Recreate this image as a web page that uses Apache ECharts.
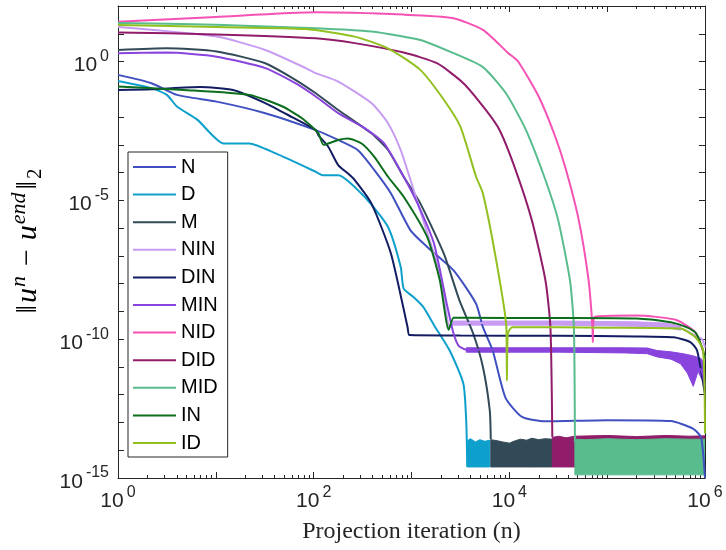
<!DOCTYPE html>
<html>
<head>
<meta charset="utf-8">
<script src="https://cdn.jsdelivr.net/npm/echarts@6/dist/echarts.min.js"></script>
<style>html,body{margin:0;padding:0;background:#fff}#c{width:726px;height:550px}</style>
</head>
<body>
<div id="c"></div>
<script>
// ---------- data (n = projection iteration, err = ||u^n - u^end||_2) ----------
const seriesNames = ['N','D','M','NIN','DIN','MIN','NID','DID','MID','IN','ID'];

const N_n   = [1, 2.2, 4.0, 10.2, 32, 105, 178, 282, 417, 617, 977, 1445, 2690, 4570, 5370, 6760, 9120, 13490, 23440, 1e5, 4.47e5, 7.59e5, 9.12e5, 1e6];
const N_err = [3.3e-1, 1.66e-1, 6.3e-2, 3.6e-2, 1.38e-2, 3.4e-3, 1.5e-3, 6.5e-4, 1.23e-4, 1.78e-5, 8.3e-7, 2.1e-7, 3.0e-8, 1.9e-9, 2.7e-10, 3.9e-11, 7.9e-13, 1.58e-13, 1.1e-13, 1.2e-13, 1.12e-13, 5.9e-14, 2.9e-14, 1e-15];

const D_n   = [1, 2.2, 3.16, 4.0, 6.5, 12, 22, 41, 105, 123, 178, 331, 575, 776, 832, 1047, 1318, 1698, 2455, 3390, 3630, 3715];
const D_err = [2.0e-1, 1.1e-1, 6.3e-2, 2.4e-2, 7.9e-3, 1.12e-3, 1.12e-3, 4.9e-4, 1.07e-4, 8.1e-5, 8.1e-5, 1.35e-5, 1.1e-6, 4.0e-8, 6.6e-9, 3.3e-9, 1.45e-9, 3.2e-10, 3.9e-11, 2.5e-12, 1e-13, 2.5e-15];
const D_band_n  = [3715, 4000, 4500, 5000, 5600, 6310];
const D_band_hi = [2.2e-14, 2.6e-14, 2.0e-14, 2.4e-14, 2.1e-14, 2.3e-14];
const D_band_lo = [2.5e-15, 2.5e-15, 2.5e-15, 2.5e-15, 2.5e-15, 2.5e-15];

const M_n   = [1, 3.16, 10.2, 32, 65, 105, 178, 389, 575, 832, 1230, 2140, 3090, 4270, 5370, 6310, 6460];
const M_err = [2.6, 3.0, 2.3, 8.7e-1, 2.2e-1, 7.2e-2, 1.8e-2, 2.6e-3, 6.5e-4, 7.1e-5, 7.8e-6, 1.2e-7, 2.5e-9, 1.6e-10, 1e-11, 2.7e-13, 2.5e-14];
const M_band_n  = [6460, 7500, 8500, 1e4, 1.15e4, 1.3e4, 1.5e4, 1.7e4, 2.0e4, 2.3e4, 2.75e4];
const M_band_hi = [2.4e-14, 2.2e-14, 2.0e-14, 1.8e-14, 2.2e-14, 2.5e-14, 2.3e-14, 2.7e-14, 2.4e-14, 2.6e-14, 2.5e-14];
const M_band_lo = [2.5e-15, 2.5e-15, 2.5e-15, 2.5e-15, 2.5e-15, 2.5e-15, 2.5e-15, 2.5e-15, 2.5e-15, 2.5e-15, 2.5e-15];

const NIN_n   = [1, 10.2, 32, 83, 105, 178, 389, 575, 776, 977, 1318, 1950, 2455, 2630, 3160, 3.16e4, 2e5, 3.98e5, 5.62e5, 7.94e5, 9.33e5, 1e6];
const NIN_err = [17.4, 7.9, 2.6, 5.8e-1, 3.8e-1, 1.9e-1, 3.2e-2, 6.0e-3, 6.5e-4, 5.4e-5, 1.9e-6, 2.3e-8, 2.7e-10, 3.8e-10, 3.8e-10, 3.8e-10, 3.5e-10, 3.2e-10, 2.5e-10, 1.35e-10, 1e-10, 5e-11];
const NIN_band_n  = [2630, 3.16e4, 2e5, 3.98e5, 5.62e5];
const NIN_band_hi = [4.5e-10, 4.5e-10, 4.2e-10, 3.8e-10, 3.0e-10];
const NIN_band_lo = [3.2e-10, 3.2e-10, 2.9e-10, 2.7e-10, 2.1e-10];

const DIN_n   = [1, 2.2, 6.9, 15, 32, 60, 105, 112, 141, 178, 224, 263, 389, 617, 912, 955, 3160, 3.16e4, 2e5, 4.79e5, 7.08e5, 8.3e5, 1e6];
const DIN_err = [9.5e-2, 1e-1, 1.2e-1, 9.5e-2, 3.2e-2, 1.0e-2, 3.4e-3, 2.2e-3, 8.5e-4, 1.86e-4, 9.3e-5, 5.4e-5, 7.8e-6, 1.2e-7, 2.7e-10, 1.4e-10, 1.35e-10, 1.32e-10, 1.26e-10, 1.17e-10, 7.9e-11, 3.9e-11, 1e-12];

const MIN_n   = [1, 3.16, 10.2, 32, 65, 105, 178, 331, 525, 832, 1150, 1700, 2290, 2455, 2690, 3020, 3630, 3.16e4, 2.57e5, 3.24e5, 5.62e5, 7.59e5, 9.12e5, 1e6];
const MIN_err = [2.0, 2.1, 1.5, 5.8e-1, 1.66e-1, 5.5e-2, 1.38e-2, 4.0e-3, 1.12e-3, 7.1e-5, 7.8e-6, 2.75e-7, 1.9e-9, 6.3e-10, 1.6e-10, 5.9e-11, 4.2e-11, 4.2e-11, 4.0e-11, 2.6e-11, 1.95e-11, 1.0e-11, 8e-12, 2e-12];
const MIN_band_n  = [3630, 3.16e4, 1.5e5, 2.57e5, 3.24e5, 4.5e5, 5.62e5, 6.6e5, 7.59e5, 8.5e5, 9.12e5, 9.6e5];
const MIN_band_hi = [4.9e-11, 4.9e-11, 4.9e-11, 4.8e-11, 3.9e-11, 3.5e-11, 3.1e-11, 2.8e-11, 2.5e-11, 2.2e-11, 2.0e-11, 1.5e-11];
const MIN_band_lo = [3.4e-11, 3.4e-11, 3.2e-11, 3.0e-11, 2.3e-11, 1.9e-11, 1.3e-11, 6e-12, 2e-12, 7e-12, 4e-12, 3e-12];

const NID_n   = [1, 10, 105, 832, 2630, 5370, 9770, 12300, 19950, 29500, 38000, 51300, 64600, 70800, 71300, 74100, 2e5, 5.01e5, 7.94e5, 9.3e5, 1e6];
const NID_err = [27, 40, 59, 49, 37, 13.8, 2.0, 1.0, 5.5e-2, 1.95e-3, 1.23e-4, 1.9e-6, 1.3e-8, 2.7e-10, 7.9e-11, 6.3e-10, 7.1e-10, 5.0e-10, 1.8e-10, 5e-11, 2e-11];

const DID_n   = [1, 10, 105, 263, 832, 1820, 3390, 5750, 7940, 11600, 17000, 23400, 26300, 27500];
const DID_err = [11.2, 9.5, 6.9, 4.6, 2.1, 8.7e-1, 1.66e-1, 1.8e-2, 3.4e-3, 1.23e-4, 1.9e-6, 1.3e-8, 2.7e-10, 3e-14];
const DID_band_n  = [27500, 3.2e4, 3.8e4, 4.68e4, 1e5, 2e5, 4e5, 7e5, 1e6];
const DID_band_hi = [2.9e-14, 3.2e-14, 2.8e-14, 3.2e-14, 3.4e-14, 3.1e-14, 3.4e-14, 3.2e-14, 3.3e-14];
const DID_band_lo = [2.5e-15, 2.5e-15, 2.5e-15, 2.5e-15, 2.5e-15, 2.5e-15, 2.5e-15, 2.5e-15, 2.5e-15];

const MID_n   = [1, 10, 105, 389, 1230, 2690, 5370, 9230, 14800, 23400, 31600, 41700, 45700, 46800];
const MID_err = [24.5, 21, 15.8, 12, 6.0, 2.0, 6.3e-1, 7.2e-2, 3.4e-3, 5.4e-5, 1.9e-6, 1.3e-8, 2.7e-10, 2e-14];
const MID_band_n  = [46800, 6e4, 1e5, 2e5, 4e5, 7e5, 1e6];
const MID_band_hi = [2.5e-14, 2.4e-14, 2.6e-14, 2.4e-14, 2.6e-14, 2.5e-14, 2.5e-14];
const MID_band_lo = [1.3e-15, 1.3e-15, 1.3e-15, 1.3e-15, 1.3e-15, 1.3e-15, 1.3e-15];

const IN_n   = [1, 4.7, 22, 48, 76, 112, 126, 178, 224, 309, 417, 575, 832, 1445, 1950, 2400, 2690, 3160, 3.16e4, 2e5, 4.47e5, 6.46e5, 8.13e5, 9.55e5, 1e6];
const IN_err = [1.26e-1, 9.5e-2, 6.3e-2, 2.4e-2, 9.1e-3, 2.6e-3, 1e-3, 1.5e-3, 1.7e-3, 1.12e-3, 3.7e-4, 7.1e-5, 1.35e-5, 4.8e-7, 1.3e-8, 2.2e-10, 5.9e-10, 5.9e-10, 5.75e-10, 5.5e-10, 4.1e-10, 2.7e-10, 1.6e-10, 4e-11, 2e-11];

const ID_n   = [1, 10.2, 83, 263, 575, 1230, 2140, 3160, 4570, 5370, 7240, 9330, 9440, 9660, 10700, 1e5, 5.62e5, 7.94e5, 9.55e5, 1e6];
const ID_err = [20.9, 17.4, 14.8, 7.9, 3.0, 5.0e-1, 4.2e-2, 4.5e-3, 7.1e-5, 1.78e-5, 9.1e-8, 2.7e-10, 3.2e-12, 1.6e-10, 2.7e-10, 2.6e-10, 2.4e-10, 1.2e-10, 4e-11, 4e-14];

const xTickExponents = [0, 2, 4, 6];
const yTickExponents = [-15, -10, -5, 0];

// ---------- build ----------
const palette = {
  N:'#4050c0', D:'#0ea0cc', M:'#324a58', NIN:'#c89cf2', DIN:'#121c62', MIN:'#8844dc',
  NID:'#f452b4', DID:'#901c6a', MID:'#58bc8c', IN:'#0c6e1c', ID:'#92c020'
};
const lineData = {
  N:[N_n,N_err], D:[D_n,D_err], M:[M_n,M_err], NIN:[NIN_n,NIN_err], DIN:[DIN_n,DIN_err],
  MIN:[MIN_n,MIN_err], NID:[NID_n,NID_err], DID:[DID_n,DID_err], MID:[MID_n,MID_err],
  IN:[IN_n,IN_err], ID:[ID_n,ID_err]
};
const bands = [
  ['NIN', NIN_band_n, NIN_band_hi, NIN_band_lo],
  ['MIN', MIN_band_n, MIN_band_hi, MIN_band_lo],
  ['D', D_band_n, D_band_hi, D_band_lo],
  ['M', M_band_n, M_band_hi, M_band_lo],
  ['DID', DID_band_n, DID_band_hi, DID_band_lo],
  ['MID', MID_band_n, MID_band_hi, MID_band_lo]
];

const series = [];
seriesNames.forEach(name => {
  const [xs, ys] = lineData[name];
  series.push({
    name, type:'line', symbol:'none', showSymbol:false, smooth:0.2,
    lineStyle:{ color:palette[name], width:2 }, itemStyle:{ color:palette[name] },
    data: xs.map((x,i)=>[x, ys[i]]), animation:false, clip:true
  });
});
bands.forEach(([name, xs, hi, lo]) => {
  series.push({
    name, type:'custom', clip:true, silent:true, animation:false,
    data: xs.map((x,i)=>[x, lo[i], hi[i]]),
    encode:{ x:0, y:[1,2] },
    renderItem: (params, api) => {
      if (params.dataIndex !== 0) return null;
      const pts = [];
      for (let i = 0; i < xs.length; i++) pts.push(api.coord([xs[i], hi[i]]));
      for (let i = xs.length - 1; i >= 0; i--) pts.push(api.coord([xs[i], lo[i]]));
      return { type:'polygon', shape:{ points:pts }, style:{ fill:palette[name], stroke:palette[name], lineWidth:1 } };
    }
  });
});

const axisCol = '#262626';
const supRich = {
  b:{ fontFamily:'Liberation Sans', fontSize:21, color:axisCol, padding:[8,0,0,0] },
  s:{ fontFamily:'Liberation Sans', fontSize:16, color:axisCol, padding:[0,0,10,3] }
};
function expOf(v){ return Math.round(Math.log10(v)); }

const xBase = {
  type:'log', logBase:10, min:1, max:1e6, interval:1,
  axisLine:{ show:true, onZero:false, lineStyle:{ color:axisCol, width:1 } },
  axisTick:{ show:true, inside:true, length:6, lineStyle:{ color:axisCol } },
  minorTick:{ show:true, splitNumber:9, length:3, lineStyle:{ color:axisCol } },
  splitLine:{ show:false }, minorSplitLine:{ show:false }
};
const yBase = {
  type:'log', logBase:10, min:1e-15, max:1e2, interval:1,
  axisLine:{ show:true, onZero:false, lineStyle:{ color:axisCol, width:1 } },
  axisTick:{ show:true, inside:true, length:6, lineStyle:{ color:axisCol } },
  splitLine:{ show:false }
};

const option = {
  backgroundColor:'#fff',
  animation:false,
  grid:{ left:110, right:21, top:6, bottom:72, containLabel:false },
  xAxis:[
    Object.assign({}, xBase, {
      position:'bottom',
      axisLabel:{ show:true, margin:5, formatter: v => { const e = expOf(v); return xTickExponents.includes(e) ? '{b|10}{s|' + e + '}' : ''; }, rich:supRich },
      name:'Projection iteration (n)', nameLocation:'middle', nameGap:42,
      nameTextStyle:{ fontFamily:'Liberation Serif', fontSize:24, color:axisCol }
    }),
    Object.assign({}, xBase, { position:'top', axisLabel:{ show:false } })
  ],
  yAxis:[
    Object.assign({}, yBase, {
      position:'left',
      axisLabel:{ show:true, margin:9, formatter: v => { const e = expOf(v); return yTickExponents.includes(e) ? '{b|10}{s|' + e + '}' : ''; }, rich:supRich },
      name:'{a|‖}{u|u}{sup|n}{m|−}{u|u}{sup|end}{a|‖}{sub|2}',
      nameLocation:'middle', nameRotate:90, nameGap:70,
      nameTextStyle:{
        color:'#000', padding:[0,0,0,0],
        rich:{
          a:{ fontFamily:'Liberation Serif', fontSize:30, color:'#000', padding:[0,2,0,2] },
          m:{ fontFamily:'Liberation Serif', fontSize:30, color:'#000', padding:[0,9,0,9] },
          u:{ fontFamily:'Liberation Serif', fontStyle:'italic', fontSize:30, color:'#000' },
          sup:{ fontFamily:'Liberation Serif', fontStyle:'italic', fontSize:22, color:'#000', padding:[0,1,18,1] },
          sub:{ fontFamily:'Liberation Serif', fontSize:21, color:'#000', padding:[14,0,0,0] }
        }
      }
    }),
    Object.assign({}, yBase, { position:'right', axisLabel:{ show:false } })
  ],
  legend:{
    data: seriesNames, orient:'vertical', left:128, top:152,
    padding:[5,10,4,5], itemWidth:43, itemHeight:14, itemGap:7.6,
    backgroundColor:'#fff', borderColor:axisCol, borderWidth:1,
    textStyle:{ fontFamily:'Liberation Sans', fontSize:20, lineHeight:20, color:'#000' },
    icon:'path://M0,6 L43,6 L43,8 L0,8 Z', selectedMode:false
  },
  series
};

const chart = echarts.init(document.getElementById('c'), null, { renderer:'canvas' });
chart.setOption(option);
</script>
</body>
</html>
